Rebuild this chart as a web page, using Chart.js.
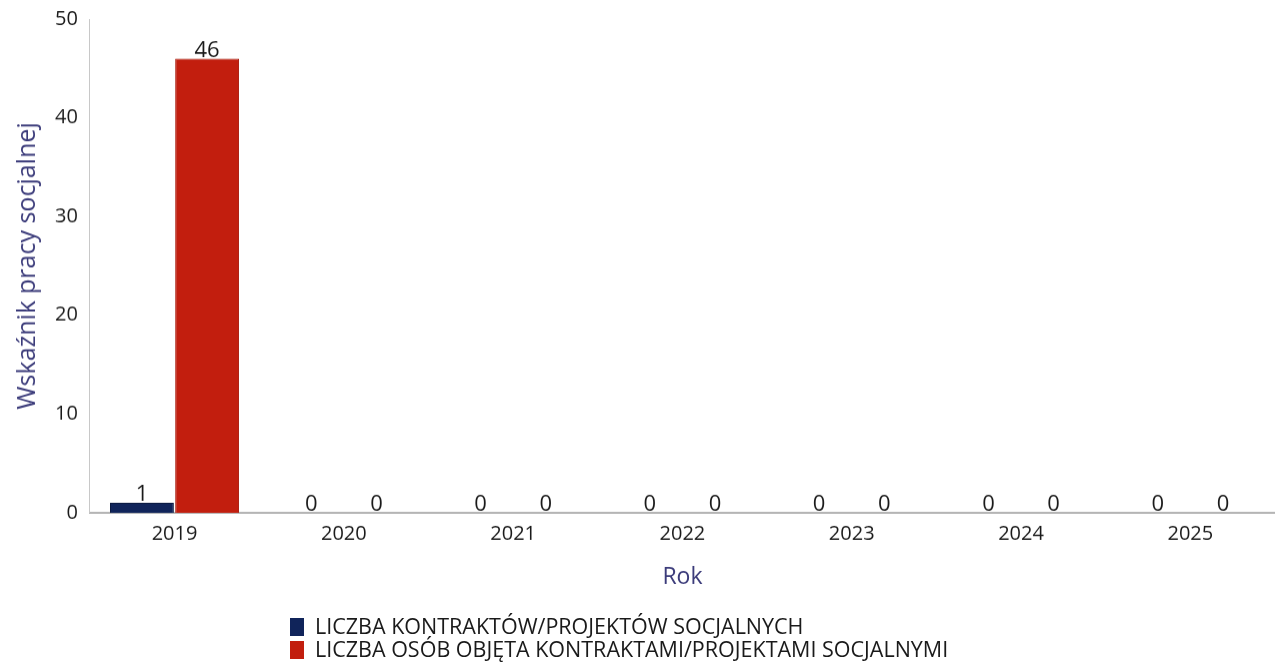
<!DOCTYPE html>
<html>
<head>
<meta charset="utf-8">
<script src="https://cdn.jsdelivr.net/npm/chart.js@4"></script>
<style>
  body { margin: 0; background: #fff; overflow: hidden; }
  #wrap { position: relative; width: 1275px; height: 666px; overflow: hidden; }
  #chart { position: absolute; left: 0; top: -5px; }
  #legend { position: absolute; left: 290px; top: 614px; font-family: "Open Sans", sans-serif; font-size: 21.5px; color: #1a1a1a; line-height: 23px; }
  #legend span.box { display: inline-block; width: 14px; height: 18px; margin-right: 11px; vertical-align: -2px; }
</style>
</head>
<body>
<div id="wrap">
  <canvas id="chart"></canvas>
  <div id="legend"></div>
</div>
<script>
// dane
const years = ["2019", "2020", "2021", "2022", "2023", "2024", "2025"];
const kontrakty = [1, 0, 0, 0, 0, 0, 0];
const osoby = [46, 0, 0, 0, 0, 0, 0];
const yTicks = [0, 10, 20, 30, 40, 50];

// etykiety nad slupkami
const valueLabels = {
    id: "valueLabels",
    afterDatasetsDraw(chart) {
        const ctx = chart.ctx;
        ctx.save();
        ctx.font = "22px 'Open Sans'";
        ctx.fillStyle = "#1a1a1a";
        ctx.textAlign = "center";
        ctx.textBaseline = "bottom";
        chart.data.datasets.forEach((ds, i) => {
            chart.getDatasetMeta(i).data.forEach((bar, j) => {
                ctx.fillText(ds.data[j], bar.x, bar.y + 3);
            });
        });
        ctx.restore();
    }
};

const ctx = document.getElementById("chart").getContext("2d");
const chart = new Chart(ctx, {
    type: "bar",
    data: {
        labels: years,
        datasets: [
            {
                label: "LICZBA KONTRAKTÓW/PROJEKTÓW SOCJALNYCH",
                data: kontrakty,
                backgroundColor: "#10245a",
                borderColor: "#0b1a40",
                borderWidth: 1,
            },
            {
                label: "LICZBA OSÓB OBJĘTA KONTRAKTAMI/PROJEKTAMI SOCJALNYMI",
                data: osoby,
                backgroundColor: "#c21e0e",
                borderColor: "#a8180a",
                borderWidth: 1,
            },
        ],
    },
    options: {
        responsive: false,
        animation: false,
        layout: { padding: { top: 0, right: 0, bottom: 38, left: 9 } },
        plugins: {
            legend: { display: false },
            tooltip: { enabled: false },
        },
        datasets: {
            bar: { categoryPercentage: 0.77, barPercentage: 0.98 },
        },
        scales: {
            x: {
                grid: { display: false, drawTicks: false },
                border: { color: "#b5b5b5", width: 2 },
                ticks: { color: "#1a1a1a", font: { family: "Open Sans", size: 20 }, padding: 9 },
                title: { display: true, text: "Rok", color: "#3b3b7a", font: { family: "Open Sans", size: 23 }, padding: { top: 9 } },
            },
            y: {
                min: 0,
                max: 50,
                afterBuildTicks: (axis) => { axis.ticks = yTicks.map(v => ({ value: v })); },
                grid: { display: false, drawTicks: false },
                border: { color: "#c8c8c8", width: 1 },
                ticks: { color: "#1a1a1a", font: { family: "Open Sans", size: 20 }, padding: 12 },
                title: { display: true, text: "Wskaźnik pracy socjalnej", color: "#3b3b7a", font: { family: "Open Sans", size: 25 }, padding: { bottom: 0 } },
            },
        },
    },
    plugins: [valueLabels],
});
chart.resize(1275, 671);

// legenda
document.getElementById("legend").innerHTML = chart.data.datasets.map(ds =>
    '<div><span class="box" style="background:' + ds.backgroundColor + '"></span>' + ds.label + '</div>'
).join("");
</script>
</body>
</html>
